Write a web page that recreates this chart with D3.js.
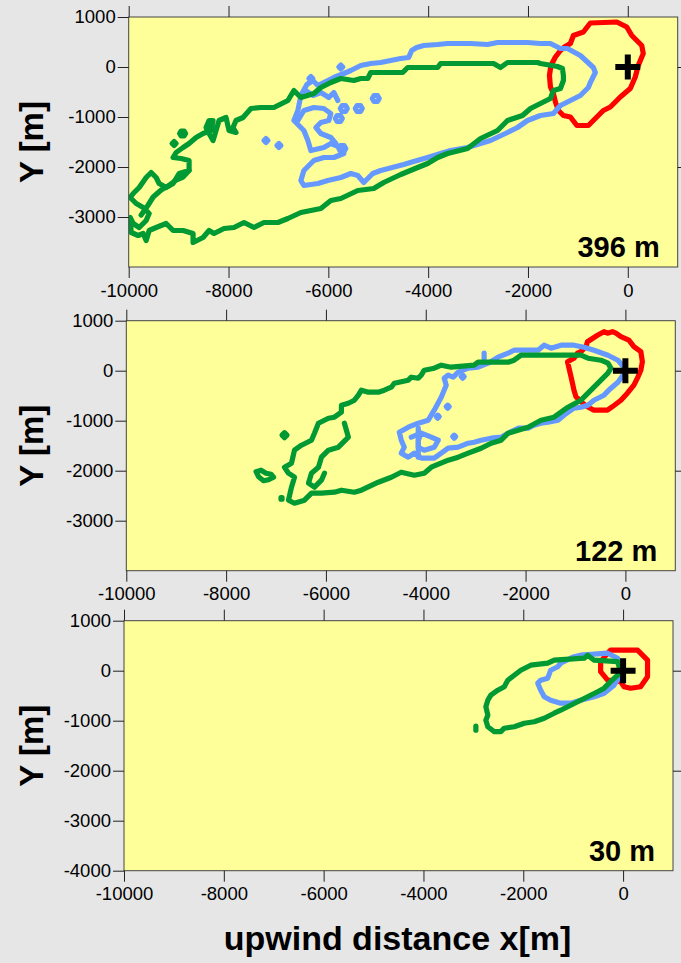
<!DOCTYPE html>
<html>
<head>
<meta charset="utf-8">
<script src="https://cdn.jsdelivr.net/npm/d3@7"></script>
<style>
  html, body { margin: 0; padding: 0; background: #e6e6e6; }
  svg { display: block; }
  text { font-family: "Liberation Sans", Arial, sans-serif; }
</style>
</head>
<body>
<svg id="chart" width="681" height="963"></svg>
<script>
// ---- axis ticks and labels ----
const xTicks = [-10000, -8000, -6000, -4000, -2000, 0];
const yTicksUpper = [1000, 0, -1000, -2000, -3000];
const yTicksLower = [1000, 0, -1000, -2000, -3000, -4000];
const rightTicks = [0, -2000];
const heightLabels = ["396 m", "122 m", "30 m"];
const sourcePoint = [0, 0];
const plusArm = 250;

// ---- 396 m level: footprint contours (x, y in metres) ----
const red396 = [[-750,880],[-220,900],[-20,800],[80,630],[280,430],[310,270],[210,30],[150,-200],[50,-430],[-150,-600],[-350,-800],[-490,-870],[-650,-1030],[-790,-1170],[-1020,-1170],[-1150,-1000],[-1290,-970],[-1390,-870],[-1450,-700],[-1490,-530],[-1550,-400],[-1570,-170],[-1540,30],[-1450,200],[-1350,330],[-1270,400],[-1150,470],[-1090,630],[-890,700],[-790,830]];

const blue396 = [[-6550,-570],[-6430,-350],[-6310,-270],[-6210,-370],[-6090,-310],[-5890,-210],[-5690,-130],[-5550,-70],[-5350,30],[-5150,70],[-4950,90],[-4750,130],[-4550,170],[-4390,190],[-4330,330],[-4230,390],[-4090,430],[-3810,450],[-3610,470],[-3290,470],[-3150,470],[-2810,450],[-2610,490],[-2290,490],[-2010,490],[-1750,470],[-1550,470],[-1350,370],[-1210,370],[-950,230],[-690,-10],[-650,-110],[-750,-310],[-790,-410],[-950,-570],[-1150,-670],[-1350,-770],[-1490,-930],[-1750,-970],[-2010,-1070],[-2210,-1210],[-2410,-1310],[-2750,-1470],[-2950,-1530],[-3210,-1610],[-3550,-1670],[-3750,-1730],[-4010,-1810],[-4290,-1890],[-4490,-1950],[-4950,-2070],[-5110,-2130],[-5290,-2310],[-5410,-2170],[-5550,-2130],[-5750,-2210],[-6010,-2270],[-6210,-2330],[-6490,-2370],[-6550,-2270],[-6490,-2070],[-6290,-1870],[-6090,-1810],[-5890,-1810],[-5690,-1730],[-5750,-1610],[-5950,-1530],[-6090,-1610],[-6350,-1670],[-6410,-1470],[-6490,-1270],[-6690,-1070],[-6610,-870]];
const blue396Rings = [
  [[-5620,-830],[-5655,-770],[-5725,-770],[-5760,-830],[-5725,-890],[-5655,-890]],
  [[-5320,-830],[-5355,-770],[-5425,-770],[-5460,-830],[-5425,-890],[-5355,-890]],
  [[-4980,-630],[-5015,-570],[-5085,-570],[-5120,-630],[-5085,-690],[-5015,-690]],
  [[-5720,-1030],[-5755,-970],[-5825,-970],[-5860,-1030],[-5825,-1090],[-5755,-1090]],
  [[-5650,-1630],[-5685,-1570],[-5755,-1570],[-5790,-1630],[-5755,-1690],[-5685,-1690]],
  [[-7210,-1470],[-7250,-1430],[-7290,-1470],[-7250,-1510]],
  [[-6950,-1570],[-6990,-1530],[-7030,-1570],[-6990,-1610]],
  [[-6310,-230],[-6350,-190],[-6390,-230],[-6350,-270]],
  [[-5710,0],[-5750,40],[-5790,0],[-5750,-40]]
];
const blue396Strands = [
  [[-6610,-1070],[-6490,-870],[-6290,-810],[-6090,-830],[-5950,-930],[-5990,-1070],[-6150,-1110],[-6250,-1210],[-6150,-1330],[-5950,-1410],[-5850,-1530]],
  [[-6450,-470],[-6310,-570],[-6150,-510],[-5990,-610],[-5890,-510],[-5810,-670]]
];

const green396 = [[-1290,-170],[-1310,-30],[-1410,10],[-1750,70],[-1810,90],[-2410,90],[-2550,-10],[-2690,70],[-3750,70],[-3810,-10],[-4410,-10],[-4510,-110],[-5150,-110],[-5210,-230],[-5350,-230],[-5490,-270],[-5750,-230],[-5950,-310],[-6150,-410],[-6290,-530],[-6550,-610],[-6690,-470],[-6810,-670],[-7090,-810],[-7350,-810],[-7550,-830],[-7710,-1010],[-7850,-1070],[-7910,-1210],[-7850,-1310],[-7990,-1270],[-8050,-1010],[-8190,-1070],[-8250,-1270],[-8310,-1470],[-8390,-1330],[-8450,-1210],[-8390,-1070],[-8310,-1070],[-8350,-1270],[-8510,-1330],[-8650,-1410],[-8790,-1530],[-8910,-1610],[-9050,-1710],[-9110,-1810],[-8950,-1830],[-8790,-1870],[-8790,-2070],[-8990,-2130],[-9110,-2330],[-9250,-2410],[-9390,-2330],[-9450,-2210],[-9550,-2110],[-9650,-2210],[-9790,-2410],[-9910,-2530],[-9970,-2610],[-9850,-2730],[-9710,-2810],[-9590,-2930],[-9650,-3070],[-9790,-3210],[-9910,-3130],[-9970,-3010],[-9950,-3310],[-9810,-3370],[-9710,-3330],[-9650,-3470],[-9590,-3270],[-9450,-3210],[-9250,-3130],[-9110,-3270],[-8910,-3270],[-8710,-3330],[-8710,-3510],[-8510,-3410],[-8390,-3270],[-8290,-3330],[-8090,-3230],[-7890,-3210],[-7690,-3110],[-7490,-3210],[-7290,-3110],[-7010,-3110],[-6810,-3030],[-6550,-2910],[-6150,-2830],[-5950,-2670],[-5750,-2630],[-5410,-2470],[-5090,-2430],[-4890,-2310],[-4550,-2150],[-4210,-2010],[-4010,-1930],[-3810,-1810],[-3610,-1730],[-3210,-1630],[-2950,-1430],[-2610,-1270],[-2410,-1070],[-2110,-970],[-1950,-830],[-1750,-730],[-1550,-630],[-1490,-470],[-1350,-430],[-1290,-270]];
const green396Rings = [
  [[-8860,-1330],[-8890,-1280],[-8950,-1280],[-8980,-1330],[-8950,-1380],[-8890,-1380]],
  [[-9050,-1530],[-9090,-1490],[-9130,-1530],[-9090,-1570]]
];
const green396Strands = [
  [[-9750,-2960],[-9610,-2760],[-9510,-2600],[-9350,-2460],[-9210,-2380],[-9050,-2260],[-8910,-2200],[-8790,-2070]]
];

// ---- 122 m level ----
const red122 = [[-760,580],[-560,710],[-430,780],[-360,750],[-260,780],[-190,750],[-90,680],[70,610],[170,480],[310,380],[340,180],[310,10],[240,-150],[170,-290],[40,-450],[-90,-590],[-260,-720],[-360,-790],[-630,-790],[-760,-720],[-890,-620],[-990,-520],[-1030,-390],[-1060,-250],[-1090,-120],[-1130,50],[-1160,180],[-1030,250],[-960,350],[-890,380],[-790,480]];

const blue122 = [[-3630,-150],[-3550,-90],[-3450,-130],[-3350,-30],[-3150,50],[-2950,70],[-2750,150],[-2550,270],[-2350,350],[-2230,410],[-1950,410],[-1750,410],[-1630,510],[-1490,450],[-1290,510],[-1030,510],[-830,470],[-630,410],[-350,310],[-150,210],[-30,70],[0,-30],[-50,-90],[-150,-230],[-290,-350],[-430,-490],[-630,-590],[-750,-690],[-890,-730],[-1030,-750],[-1090,-790],[-1230,-890],[-1350,-990],[-1550,-1030],[-1690,-1050],[-1830,-1090],[-1950,-1150],[-2150,-1150],[-2350,-1250],[-2490,-1330],[-2690,-1350],[-2890,-1390],[-3030,-1430],[-3150,-1450],[-3350,-1530],[-3550,-1550],[-3690,-1650],[-3830,-1750],[-4090,-1750],[-4230,-1650],[-4350,-1730],[-4490,-1650],[-4430,-1530],[-4490,-1390],[-4530,-1230],[-4350,-1130],[-4150,-1050],[-3950,-990],[-3830,-790],[-3690,-530],[-3590,-290]];
const blue122Rings = [
  [[-3230,-120],[-3260,-90],[-3290,-120],[-3260,-150]],
  [[-3530,-720],[-3560,-690],[-3590,-720],[-3560,-750]],
  [[-3730,-920],[-3760,-890],[-3790,-920],[-3760,-950]],
  [[-3400,-1320],[-3430,-1290],[-3460,-1320],[-3430,-1350]]
];
const blue122Strands = [
  [[-4290,-1330],[-4090,-1250],[-3890,-1330],[-3750,-1390],[-3830,-1530],[-4030,-1590],[-4150,-1530],[-4150,-1390],[-4090,-1250]],
  [[-4150,-1150],[-4150,-1730]],
  [[-2830,250],[-2830,350]]
];

const green122 = [[-290,50],[-350,150],[-490,210],[-750,250],[-890,310],[-2090,310],[-2230,210],[-2350,170],[-2950,170],[-3030,110],[-3490,70],[-3690,110],[-3830,50],[-4030,10],[-4090,-90],[-4150,-150],[-4290,-130],[-4350,-190],[-4630,-250],[-4690,-330],[-4830,-390],[-4950,-430],[-5150,-430],[-5290,-390],[-5350,-490],[-5430,-590],[-5550,-650],[-5690,-690],[-5690,-830],[-5830,-930],[-5950,-950],[-6150,-1050],[-6230,-1250],[-6290,-1390],[-6490,-1490],[-6630,-1590],[-6690,-1850],[-6830,-1930],[-6750,-2050],[-6630,-2130],[-6690,-2330],[-6750,-2590],[-6630,-2650],[-6430,-2590],[-6290,-2450],[-6090,-2450],[-5830,-2430],[-5690,-2390],[-5430,-2430],[-5290,-2390],[-4950,-2230],[-4690,-2130],[-4490,-2030],[-4230,-2090],[-4030,-2050],[-3890,-1930],[-3550,-1790],[-3350,-1730],[-3150,-1650],[-2890,-1550],[-2690,-1450],[-2490,-1390],[-2350,-1250],[-1950,-1130],[-1690,-990],[-1430,-930],[-1150,-730],[-890,-590],[-750,-450],[-630,-330],[-490,-190],[-350,-50]];
const green122Rings = [
  [[-6780,-1290],[-6830,-1240],[-6880,-1290],[-6830,-1340]],
  [[-7400,-2020],[-7300,-1990],[-7200,-2050],[-7100,-2070],[-7050,-2130],[-7150,-2180],[-7250,-2200],[-7350,-2120]],
  [[-6880,-2540],[-6900,-2540],[-6900,-2570],[-6880,-2570]]
];
const green122Strands = [
  [[-5630,-1050],[-5550,-1330],[-5750,-1530],[-5950,-1590],[-6090,-1730],[-6150,-1930],[-6290,-2050],[-6350,-2250],[-6230,-2330],[-6090,-2190],[-6030,-2050]]
];

// ---- 30 m level ----
const red30 = [[-250,410],[290,410],[490,210],[490,-120],[350,-320],[150,-350],[20,-320],[-50,-220],[-310,-190],[-450,-20],[-450,180],[-310,350]];

const blue30 = [[-980,280],[-850,310],[-310,350],[-110,250],[-10,50],[-50,-90],[-180,-290],[-380,-450],[-580,-520],[-850,-590],[-1050,-650],[-1250,-650],[-1450,-590],[-1580,-520],[-1650,-390],[-1710,-250],[-1650,-190],[-1510,-150],[-1450,10],[-1310,80],[-1250,150],[-1050,250]];

const green30 = [[-50,-20],[-110,180],[-580,210],[-710,310],[-780,250],[-1380,210],[-1510,150],[-1850,110],[-2050,10],[-2180,-90],[-2310,-190],[-2380,-320],[-2510,-390],[-2650,-490],[-2710,-590],[-2750,-720],[-2710,-890],[-2750,-990],[-2710,-1120],[-2580,-1220],[-2450,-1220],[-2380,-1150],[-2180,-1120],[-1980,-1050],[-1780,-1020],[-1580,-950],[-1380,-850],[-1250,-790],[-1050,-690],[-850,-590],[-710,-520],[-510,-420],[-380,-350],[-250,-220],[-110,-90]];
const green30Strands = [
  [[-2950,-1110],[-2950,-1190]]
];

// ---- panel assembly ----
const panels = [
  { label: heightLabels[0], left: 128.7, top: 17, yTicks: yTicksUpper,
    loops: [["#ff0000", [red396]], ["#6699ff", [blue396, ...blue396Rings]], ["#009933", [green396, ...green396Rings]]],
    strands: [["#6699ff", blue396Strands], ["#009933", green396Strands]] },
  { label: heightLabels[1], left: 126.3, top: 320.7, yTicks: yTicksUpper,
    loops: [["#ff0000", [red122]], ["#6699ff", [blue122, ...blue122Rings]], ["#009933", [green122, ...green122Rings]]],
    strands: [["#6699ff", blue122Strands], ["#009933", green122Strands]] },
  { label: heightLabels[2], left: 124, top: 620.7, yTicks: yTicksLower,
    loops: [["#ff0000", [red30]], ["#6699ff", [blue30]], ["#009933", [green30]]],
    strands: [["#009933", green30Strands]] }
];

const W = 549, H = 250;
const svg = d3.select("#chart");
const plainNumber = d => String(d);   // hyphen-minus, as on the original axes

panels.forEach((p, i) => {
  const x = d3.scaleLinear().domain([-10000, 1000]).range([0, W]);
  const y = d3.scaleLinear().domain([-4000, 1000]).range([H, 0]);
  const g = svg.append("g").attr("transform", `translate(${p.left},${p.top})`);

  g.append("rect").attr("width", W).attr("height", H).attr("fill", "#ffff99");

  const clipId = "clip" + i;
  g.append("clipPath").attr("id", clipId)
    .append("rect").attr("width", W).attr("height", H);
  const plot = g.append("g").attr("clip-path", `url(#${clipId})`);

  const closedLine = d3.line().x(d => x(d[0])).y(d => y(d[1])).curve(d3.curveLinearClosed);
  const openLine = d3.line().x(d => x(d[0])).y(d => y(d[1]));

  p.loops.forEach(([color, rings]) => {
    const strands = p.strands.filter(s => s[0] === color).flatMap(s => s[1]);
    const layer = plot.append("g")
      .attr("fill", "none").attr("stroke", color).attr("stroke-width", 5.2)
      .attr("stroke-linejoin", "round").attr("stroke-linecap", "round");
    layer.selectAll("path.loop").data(rings).join("path").attr("class", "loop").attr("d", closedLine);
    layer.selectAll("path.strand").data(strands).join("path").attr("class", "strand").attr("d", openLine);
  });

  // source location marker
  plot.append("path")
    .attr("d", `M${x(sourcePoint[0] - plusArm)},${y(sourcePoint[1])}H${x(sourcePoint[0] + plusArm)}` +
               `M${x(sourcePoint[0])},${y(sourcePoint[1] - plusArm)}V${y(sourcePoint[1] + plusArm)}`)
    .attr("stroke", "#000").attr("stroke-width", 6).attr("fill", "none");

  // frame
  g.append("rect").attr("width", W).attr("height", H)
    .attr("fill", "none").attr("stroke", "#444").attr("stroke-width", 1);

  const styleAxis = sel => {
    sel.select(".domain").remove();
    sel.selectAll(".tick line").attr("stroke", "#222");
    sel.selectAll(".tick text").attr("fill", "#000")
      .style("font-family", '"Liberation Sans", Arial, sans-serif').style("font-size", "18.5px");
  };

  g.append("g")
    .call(d3.axisLeft(y).tickValues(p.yTicks).tickFormat(plainNumber).tickSize(11).tickPadding(2))
    .call(styleAxis);
  g.append("g").attr("transform", `translate(0,${H})`)
    .call(d3.axisBottom(x).tickValues(xTicks).tickFormat(plainNumber).tickSize(11).tickPadding(5.5))
    .call(styleAxis);
  g.append("g")
    .call(d3.axisTop(x).tickValues(xTicks).tickFormat("").tickSize(11))
    .call(styleAxis);
  g.append("g").attr("transform", `translate(${W},0)`)
    .call(d3.axisRight(y).tickValues(rightTicks).tickFormat("").tickSize(10))
    .call(styleAxis);

  // release height label
  g.append("text")
    .attr("x", W - 18).attr("y", H - 10)
    .attr("text-anchor", "end")
    .style("font-size", "29px").style("font-weight", "bold")
    .text(p.label);

  // y title
  svg.append("text")
    .attr("transform", `translate(43,${p.top + H / 2}) rotate(-90)`)
    .attr("text-anchor", "middle")
    .style("font-size", "33px").style("font-weight", "bold")
    .text("Y [m]");
});

svg.append("text")
  .attr("x", 397.5).attr("y", 950)
  .attr("text-anchor", "middle")
  .style("font-size", "34px").style("font-weight", "bold")
  .text("upwind distance x[m]");
</script>
</body>
</html>
